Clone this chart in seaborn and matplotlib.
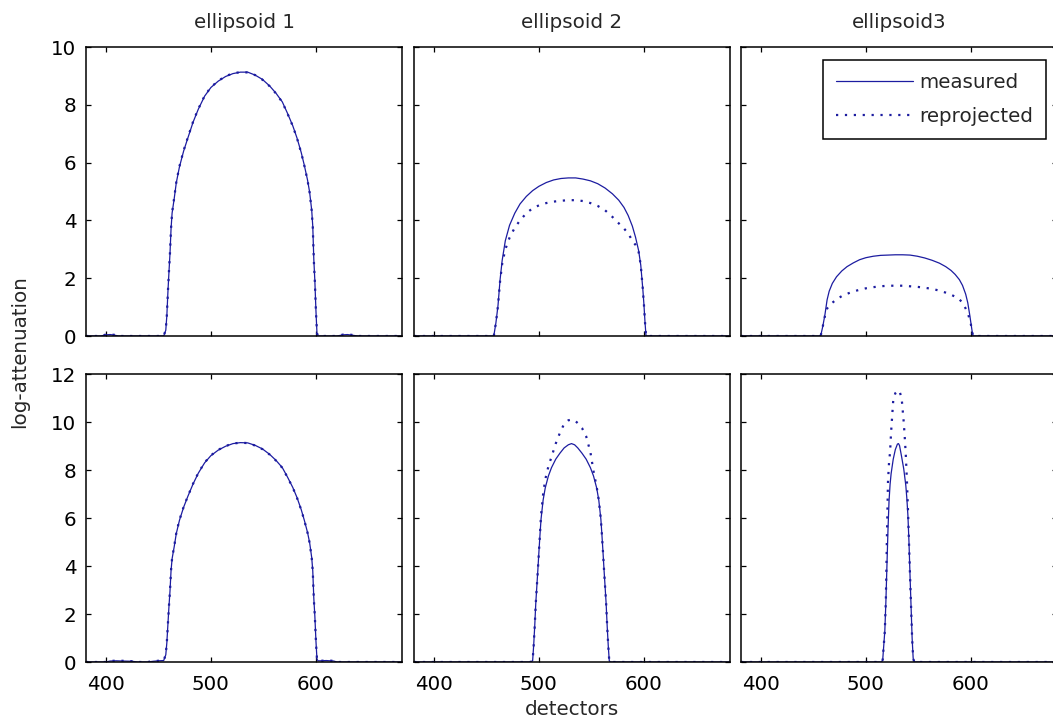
import matplotlib
matplotlib.use("Agg")
import matplotlib.pyplot as plt
import seaborn as sns

# ---- detector positions and projection values -------------------------------
titles = ["ellipsoid 1", "ellipsoid 2", "ellipsoid3"]
x_ticks = [400, 500, 600]
y_ticks_top = [0, 2, 4, 6, 8, 10]
y_ticks_bottom = [0, 2, 4, 6, 8, 10, 12]
series_labels = ["measured", "reprojected"]

# top row, ellipsoid 1
det_t1 = [381, 395, 400, 404, 408, 412, 420, 440, 455, 457, 458, 459, 460, 461, 462,
          463, 465, 467, 470, 474, 478, 483, 488, 494, 500, 507, 514, 521, 528, 535,
          542, 549, 556, 562, 568, 573, 578, 582, 586, 589, 592, 594, 596, 597, 598,
          599, 600, 601, 602, 610, 620, 626, 630, 634, 640, 660, 682]
meas_t1 = [0, 0, 0.04, 0.05, 0.03, 0, 0, 0, 0, 0.2, 0.7, 1.5, 2.2, 2.85, 3.7,
           4.25, 4.75, 5.3, 5.85, 6.4, 6.85, 7.4, 7.85, 8.3, 8.6, 8.82, 8.98, 9.08, 9.13, 9.13,
           9.03, 8.88, 8.65, 8.4, 8.1, 7.7, 7.27, 6.85, 6.35, 5.9, 5.4, 4.98, 4.35, 3.8, 2.65,
           1.9, 0.9, 0.1, 0, 0, 0, 0.04, 0.05, 0.03, 0, 0, 0]
repr_t1 = [0, 0, 0.05, 0.05, 0.04, 0, 0, 0, 0, 0.22, 0.72, 1.52, 2.22, 2.88, 3.72,
           4.27, 4.78, 5.32, 5.87, 6.42, 6.87, 7.42, 7.86, 8.31, 8.61, 8.83, 8.99, 9.09, 9.13, 9.12,
           9.03, 8.87, 8.64, 8.39, 8.09, 7.69, 7.26, 6.84, 6.34, 5.89, 5.39, 4.96, 4.33, 3.78, 2.63,
           1.88, 0.88, 0.1, 0, 0, 0, 0.05, 0.05, 0.04, 0, 0, 0]

# top row, ellipsoid 2
det_t2 = [381, 420, 455, 457, 459, 461, 463, 465, 468, 472, 477, 482, 488, 494, 500,
          507, 514, 521, 528, 535, 542, 549, 556, 563, 570, 576, 581, 585, 589, 592,
          595, 597, 599, 600, 601, 602, 640, 682]
meas_t2 = [0, 0, 0, 0, 0.45, 1.05, 1.95, 2.62, 3.3, 3.83, 4.25, 4.57, 4.83, 5.03, 5.18,
           5.31, 5.4, 5.45, 5.47, 5.47, 5.43, 5.37, 5.27, 5.12, 4.92, 4.7, 4.45, 4.17, 3.8, 3.42,
           2.95, 2.45, 1.6, 1.1, 0.5, 0, 0, 0]
repr_t2 = [0, 0, 0, 0, 0.45, 1.05, 1.9, 2.5, 3.0, 3.4, 3.75, 4.0, 4.25, 4.42, 4.52,
           4.6, 4.65, 4.68, 4.7, 4.7, 4.67, 4.6, 4.5, 4.35, 4.12, 3.9, 3.72, 3.55, 3.3, 3.15,
           2.9, 2.45, 1.6, 1.1, 0.5, 0, 0, 0]

# top row, ellipsoid 3
det_t3 = list(det_t2)
meas_t3 = [0, 0, 0, 0.02, 0.35, 0.75, 1.25, 1.55, 1.82, 2.05, 2.25, 2.4, 2.53, 2.64, 2.71,
           2.76, 2.79, 2.8, 2.81, 2.81, 2.8, 2.76, 2.7, 2.62, 2.52, 2.4, 2.27, 2.13, 1.95, 1.75,
           1.45, 1.15, 0.7, 0.45, 0.2, 0, 0, 0]
repr_t3 = [0, 0, 0, 0.02, 0.35, 0.7, 0.95, 1.05, 1.15, 1.27, 1.38, 1.46, 1.54, 1.6, 1.65,
           1.69, 1.72, 1.74, 1.74, 1.74, 1.72, 1.7, 1.67, 1.63, 1.57, 1.5, 1.43, 1.36, 1.27, 1.15,
           0.95, 0.8, 0.55, 0.4, 0.18, 0, 0, 0]

# bottom row, ellipsoid 1
det_b1 = [381, 400, 404, 410, 416, 425, 430, 440, 445, 450, 455, 457, 458, 459, 460, 461, 462,
          463, 465, 467, 470, 474, 478, 483, 488, 494, 500, 507, 514, 521, 528, 535,
          542, 549, 556, 562, 568, 573, 578, 582, 586, 589, 592, 594, 596, 597, 598,
          599, 600, 601, 602, 604, 610, 617, 620, 640, 660, 682]
meas_b1 = [0, 0, 0.04, 0.05, 0.04, 0.03, 0, 0, 0.03, 0.05, 0.06, 0.3, 0.8, 1.55, 2.3, 2.95, 3.8,
           4.3, 4.8, 5.35, 5.9, 6.45, 6.9, 7.42, 7.87, 8.3, 8.6, 8.83, 8.99, 9.1, 9.14, 9.13,
           9.03, 8.88, 8.65, 8.4, 8.1, 7.7, 7.27, 6.85, 6.35, 5.9, 5.4, 4.98, 4.35, 3.8, 2.65,
           1.9, 0.9, 0.12, 0.05, 0.05, 0.06, 0.04, 0, 0, 0, 0]
repr_b1 = [0, 0, 0.05, 0.05, 0.05, 0.03, 0, 0, 0.04, 0.05, 0.06, 0.32, 0.82, 1.57, 2.32, 2.97, 3.82,
           4.32, 4.82, 5.37, 5.92, 6.46, 6.91, 7.43, 7.88, 8.31, 8.61, 8.84, 9.0, 9.1, 9.14, 9.12,
           9.02, 8.87, 8.64, 8.39, 8.09, 7.69, 7.26, 6.84, 6.34, 5.89, 5.39, 4.96, 4.33, 3.78, 2.63,
           1.88, 0.88, 0.12, 0.05, 0.05, 0.06, 0.05, 0, 0, 0, 0]

# bottom row, ellipsoid 2
det_b2 = [381, 450, 492, 494, 495, 496, 497, 498, 499, 500, 501, 502, 504, 506, 509,
          512, 516, 520, 524, 528, 531, 534, 537, 541, 545, 549, 552, 555, 557, 559,
          560, 561, 562, 563, 564, 565, 566, 567, 568, 600, 682]
meas_b2 = [0, 0, 0, 0.05, 0.7, 1.5, 2.45, 3.15, 3.85, 4.6, 5.3, 5.95, 6.75, 7.25, 7.75,
           8.1, 8.45, 8.7, 8.92, 9.05, 9.1, 9.05, 8.92, 8.7, 8.45, 8.1, 7.75, 7.25, 6.75, 5.95,
           5.3, 4.6, 3.85, 3.15, 2.45, 1.5, 0.7, 0.05, 0, 0, 0]
repr_b2 = [0, 0, 0, 0.05, 0.7, 1.5, 2.45, 3.15, 3.85, 4.6, 5.35, 6.1, 7.0, 7.6, 8.15,
           8.55, 9.1, 9.55, 9.92, 10.07, 10.1, 10.07, 9.95, 9.75, 9.4, 8.75, 7.95, 7.3, 6.75, 5.95,
           5.3, 4.6, 3.85, 3.15, 2.45, 1.5, 0.7, 0.05, 0, 0, 0]

# bottom row, ellipsoid 3
det_b3 = [381, 450, 515, 516, 517, 518, 519, 520, 521, 522, 523, 524, 526, 528, 530,
          531, 532, 534, 536, 537, 538, 539, 540, 541, 542, 543, 544, 545, 546, 600, 682]
meas_b3 = [0, 0, 0, 0.1, 0.7, 1.3, 2.5, 4.0, 5.5, 6.7, 7.4, 7.85, 8.45, 8.85, 9.08,
           9.1, 9.02, 8.55, 8.05, 7.7, 7.35, 6.8, 6.1, 5.0, 3.6, 2.3, 1.0, 0.15, 0, 0, 0]
repr_b3 = [0, 0, 0, 0.1, 0.7, 1.3, 2.6, 5.2, 7.5, 8.3, 8.75, 9.6, 10.9, 11.2, 11.3,
           11.32, 11.28, 11.0, 10.0, 9.35, 8.6, 7.6, 6.4, 5.0, 3.6, 2.3, 1.0, 0.15, 0, 0, 0]

panels = [
    [(det_t1, meas_t1, repr_t1), (det_t2, meas_t2, repr_t2), (det_t3, meas_t3, repr_t3)],
    [(det_b1, meas_b1, repr_b1), (det_b2, meas_b2, repr_b2), (det_b3, meas_b3, repr_b3)],
]

# ---- styling -----------------------------------------------------------------
sns.set_theme(style="white")
plt.rcParams["font.family"] = ["DejaVu Sans"]
FS = 14.3
LINE_COLOR = "#1c1ca0"

W, H = 1053, 725
fig = plt.figure(figsize=(W / 100, H / 100), dpi=100, facecolor="white")

col_left = [86, 414, 741]
ax_w = 316
row_top = [47, 374]
row_h = [289, 288]

axes = []
for r in range(2):
    row = []
    for c in range(3):
        ax = fig.add_axes([col_left[c] / W, 1 - (row_top[r] + row_h[r]) / H,
                           ax_w / W, row_h[r] / H])
        det, meas, repr_ = panels[r][c]
        sns.lineplot(x=det, y=meas, ax=ax, color=LINE_COLOR, linewidth=0.9,
                     estimator=None, sort=False, label=series_labels[0], legend=False)
        sns.lineplot(x=det, y=repr_, ax=ax, color=LINE_COLOR, linewidth=1.6,
                     linestyle=(0, (1, 3)), estimator=None, sort=False,
                     label=series_labels[1], legend=False)
        ax.set_xlim(381, 682)
        ax.set_xticks(x_ticks)
        if r == 0:
            ax.set_ylim(0, 10)
            ax.set_yticks(y_ticks_top)
            ax.set_title(titles[c], fontsize=FS, pad=14)
            ax.set_xticklabels([])
        else:
            ax.set_ylim(0, 12)
            ax.set_yticks(y_ticks_bottom)
            ax.set_xticklabels([str(t) for t in x_ticks])
        if c != 0:
            ax.set_yticklabels([])
        ax.tick_params(direction="in", length=3.6, width=0.9, top=True, right=True,
                       bottom=True, left=True, labelsize=FS, colors="black")
        ax.tick_params(axis="x", pad=9)
        ax.tick_params(axis="y", pad=7)
        for s in ax.spines.values():
            s.set_color("black")
            s.set_linewidth(1.1)
        ax.set_xlabel("")
        ax.set_ylabel("")
        ax.set_facecolor("white")
        row.append(ax)
    axes.append(row)

axes[1][1].set_xlabel("detectors", fontsize=FS, labelpad=5)
fig.text(20 / W, 1 - 352 / H, "log-attenuation", rotation=90, fontsize=FS,
         ha="center", va="center")

leg = axes[0][2].legend(loc="upper left", bbox_to_anchor=(823 / W, 1 - 60 / H),
                        bbox_transform=fig.transFigure, borderaxespad=0,
                        fontsize=FS, frameon=True, fancybox=False, shadow=False,
                        handlelength=3.9, handletextpad=0.3, borderpad=0.65,
                        labelspacing=0.75)
leg.get_frame().set_edgecolor("black")
leg.get_frame().set_linewidth(1.1)
leg.get_frame().set_facecolor("white")
leg.get_frame().set_alpha(1)

fig.savefig("out.png", dpi=100, facecolor="white")
